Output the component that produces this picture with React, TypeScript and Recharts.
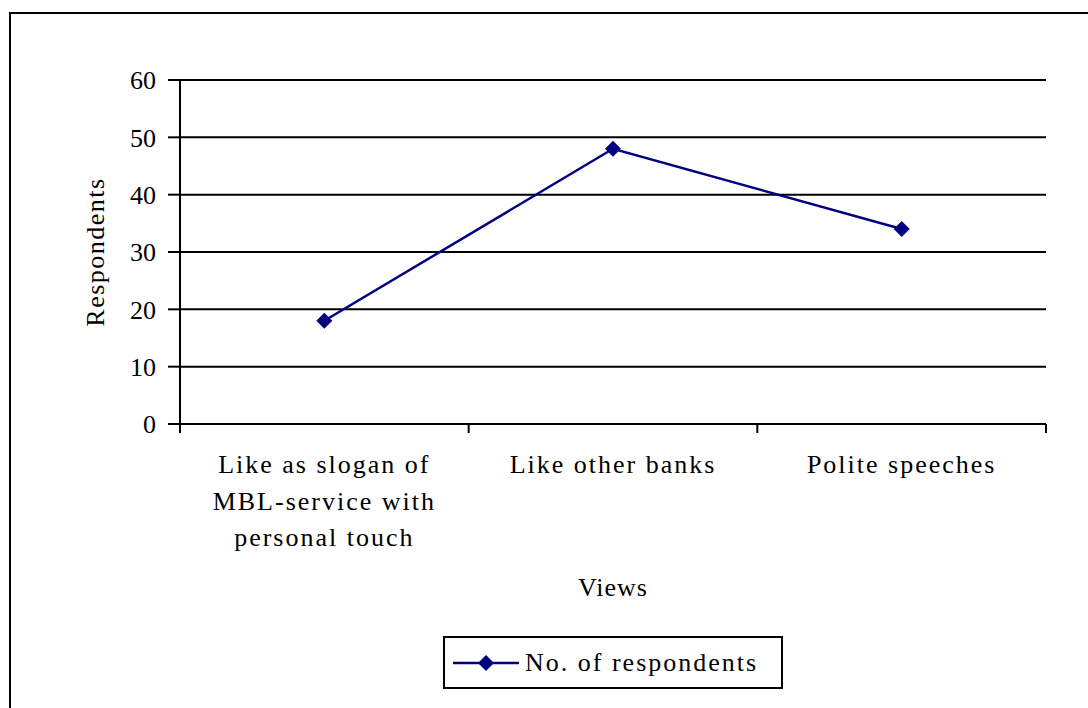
import React from 'react';
import {
    LineChart,
    Line,
    XAxis,
    YAxis,
    CartesianGrid,
    Legend,
} from 'recharts';

// Survey answers: one point per view, line breaks mark how the long label wraps
const categories = [
    'Like as slogan of\nMBL-service with\npersonal touch',
    'Like other banks',
    'Polite speeches',
];
const respondents = [18, 48, 34];
const yTicks = [0, 10, 20, 30, 40, 50, 60];

const data = categories.map((view, i) => ({ view, respondents: respondents[i] }));

const NAVY = '#000080';
const FONT = '"Liberation Serif", "Times New Roman", serif';

// category label plus the divider marks at the band edges (payload.offset is half the band)
const CategoryTick = (props: any) => {
    const { x, y, payload, index, visibleTicksCount } = props;
    const half = payload.offset || 0;
    const axisY = 424;
    const lines = String(payload.value).split('\n');
    return (
        <g>
            <line x1={x - half} y1={axisY} x2={x - half} y2={axisY + 9} stroke="#000" strokeWidth={2} />
            {index === visibleTicksCount - 1 && (
                <line x1={x + half} y1={axisY} x2={x + half} y2={axisY + 9} stroke="#000" strokeWidth={2} />
            )}
            <text x={x} y={y} textAnchor="middle" fontSize={26} fontFamily={FONT} letterSpacing={2} fill="#000">
                {lines.map((line, i) => (
                    <tspan key={i} x={x} dy={i === 0 ? 41 : 36.5}>{line}</tspan>
                ))}
            </text>
        </g>
    );
};

const Diamond = (props: any) => {
    const { cx, cy } = props;
    if (cx == null || cy == null) return null;
    return <polygon points={`${cx},${cy - 8} ${cx + 8},${cy} ${cx},${cy + 8} ${cx - 8},${cy}`} fill={NAVY} />;
};

const LegendBox = (props: any) => {
    const item = props.payload && props.payload[0];
    return (
        <div style={{
            border: '2px solid #000',
            width: 336,
            height: 49,
            display: 'flex',
            alignItems: 'center',
            boxSizing: 'content-box',
            background: '#fff',
        }}>
            <svg width={80} height={20} style={{ marginLeft: 8 }}>
                <line x1={0} y1={10} x2={66} y2={10} stroke={NAVY} strokeWidth={2.5} />
                <polygon points="33,2 41,10 33,18 25,10" fill={NAVY} />
            </svg>
            <span style={{ fontFamily: FONT, fontSize: 26, letterSpacing: 2, color: '#000', marginLeft: -8 }}>
                {item ? item.value : ''}
            </span>
        </div>
    );
};

const App = () => {
    return (
        <div style={{ position: 'absolute', left: 0, top: 0, width: 1088, height: 708, background: '#fff', overflow: 'hidden' }}>
            {/* outer frame, only left and top edges fall inside the page */}
            <div style={{
                position: 'absolute',
                left: 9,
                top: 12,
                width: 1079,
                height: 696,
                borderLeft: '2px solid #000',
                borderTop: '2px solid #000',
                boxSizing: 'border-box',
            }} />
            <div style={{ position: 'absolute', left: 0, top: 0 }}>
                <LineChart
                    width={1088}
                    height={708}
                    data={data}
                    margin={{ top: 80, right: 42, left: 0, bottom: 114 }}
                >
                    <CartesianGrid vertical={false} stroke="#000" strokeWidth={2} />
                    <XAxis
                        dataKey="view"
                        scale="band"
                        interval={0}
                        height={170}
                        axisLine={{ stroke: '#000', strokeWidth: 2 }}
                        tickLine={false}
                        tick={<CategoryTick />}
                        label={{
                            value: 'Views',
                            position: 'insideBottom',
                            offset: -2,
                            style: { fontFamily: FONT, fontSize: 26, letterSpacing: 1, fill: '#000' },
                        }}
                    />
                    <YAxis
                        width={180}
                        domain={[0, 60]}
                        ticks={yTicks}
                        axisLine={{ stroke: '#000', strokeWidth: 2 }}
                        tickLine={{ stroke: '#000', strokeWidth: 2 }}
                        tickSize={12}
                        tickMargin={12}
                        tick={{ fontFamily: FONT, fontSize: 26, fill: '#000' }}
                        label={{
                            value: 'Respondents',
                            angle: -90,
                            position: 'insideLeft',
                            offset: 95,
                            style: { textAnchor: 'middle', fontFamily: FONT, fontSize: 26, letterSpacing: 1.5, fill: '#000' },
                        }}
                    />
                    <Legend
                        layout="horizontal"
                        verticalAlign="middle"
                        align="center"
                        wrapperStyle={{ left: 443, top: 636, width: 'auto' }}
                        content={<LegendBox />}
                    />
                    <Line
                        dataKey="respondents"
                        name="No. of respondents"
                        stroke={NAVY}
                        strokeWidth={2.5}
                        dot={<Diamond />}
                        activeDot={false}
                        isAnimationActive={false}
                    />
                </LineChart>
            </div>
        </div>
    );
};

export default App;
